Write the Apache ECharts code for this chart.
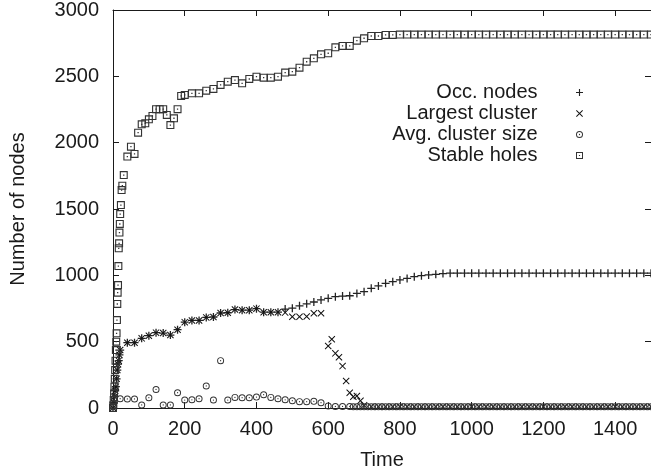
<!DOCTYPE html>
<html>
<head>
<meta charset="utf-8">
<script src="https://cdn.jsdelivr.net/npm/echarts@6/dist/echarts.min.js"></script>
<style>
  html, body { margin: 0; padding: 0; background: #fff; }
  #chart { width: 651px; height: 476px; }
</style>
</head>
<body>
<div id="chart"></div>
<script>
// values
var tHoles = [0,1,2,3,4,5,6,7,8,9,10,11,12,13,14,15,16,17,18,19,20,22,24,26,30,
  40,50,60,70,80,90,100,110,120,130,140,150,160,170,180,190,200,
  220,240,260,280,300,320,340,360,380,400,420,440,460,480,500,520,540,560,580,600,
  620,640,660,680,700,720,740,760,780,800,820,840,860,880,900,920,940,960,980,1000,
  1020,1040,1060,1080,1100,1120,1140,1160,1180,1200,1220,1240,1260,1280,1300,
  1320,1340,1360,1380,1400,1420,1440,1460,1480,1500]
var vHoles = [0,20,60,110,161,220,286,357,437,500,563,663,784,869,927,1070,1204,1241,1322,1387,1462,1530,1643,1676,1756,
  1895,1970,1915,2075,2138,2146,2176,2201,2252,2252,2252,2209,2133,2184,2252,2352,2360,
  2372,2372,2392,2405,2435,2460,2472,2447,2480,2497,2490,2490,2497,2528,2535,2565,2610,2636,2666,2674,
  2719,2729,2729,2769,2787,2804,2804,2812,2812,2815,2815,2815,2815,2815,2815,2815,2815,2815,2815,2815,
  2815,2815,2815,2815,2815,2815,2815,2815,2815,2815,2815,2815,2815,2815,2815,
  2815,2815,2815,2815,2815,2815,2815,2815,2815,2815,2815]

var tOcc = [0,2,4,6,8,10,12,14,16,18,20,
  40,60,80,100,120,140,160,180,200,220,240,260,280,300,320,340,360,380,400,420,440,460,480,500,
  520,540,560,580,600,620,640,660,680,700,720,740,760,780,800,820,840,860,880,900,920,
  940,960,980,1000,1020,1040,1060,1080,1100,1120,1140,1160,1180,1200,1220,1240,1260,1280,1300,
  1320,1340,1360,1380,1400,1420,1440,1460,1480,1500]
var vOcc = [0,40,85,130,161,220,286,330,357,400,437,
  492,492,525,545,568,565,550,590,647,660,660,683,686,716,718,742,737,737,749,722,722,722,746,752,
  770,785,799,815,827,839,844,846,864,877,902,920,940,952,965,977,990,997,1003,1008,1013,
  1016,1016,1016,1016,1016,1016,1016,1016,1016,1016,1016,1016,1016,1016,1016,1016,1016,1016,1016,
  1016,1016,1016,1016,1016,1016,1016,1016,1016,1016]

var tLargest = [0,2,4,6,8,10,12,14,16,18,20,
  40,60,80,100,120,140,160,180,200,220,240,260,280,300,320,340,360,380,400,420,440,460,480,500,
  520,540,560,580,600,610,620,630,640,650,660,670,680,690,700,
  720,740,760,780,800,820,840,860,880,900,920,940,960,980,1000,1020,1040,1060,1080,1100,
  1120,1140,1160,1180,1200,1220,1240,1260,1280,1300,1320,1340,1360,1380,1400,1420,1440,1460,1480,1500]
var vLargest = [0,40,85,130,161,220,286,330,357,400,437,
  492,492,525,545,568,565,550,590,647,660,660,683,686,716,718,742,737,737,749,722,722,722,719,688,
  688,690,714,714,467,518,412,382,316,204,115,85,90,55,20,
  10,10,10,10,10,10,10,10,10,10,10,10,10,10,10,10,10,10,10,10,
  10,10,10,10,10,10,10,10,10,10,10,10,10,10,10,10,10,10,10,10]

var tAvg = [0,4,20,40,60,80,100,120,140,160,180,200,220,240,260,280,300,320,340,360,380,400,
  420,440,460,480,500,520,540,560,580,600,620,640,660,
  670,680,690,700,710,720,730,740,750,760,770,780,790,800,810,820,830,840,850,860,870,880,890,900,
  910,920,930,940,950,960,970,980,990,1000,1010,1020,1030,1040,1050,1060,1070,1080,1090,1100,
  1110,1120,1130,1140,1150,1160,1170,1180,1190,1200,1210,1220,1230,1240,1250,1260,1270,1280,1290,1300,
  1310,1320,1330,1340,1350,1360,1370,1380,1390,1400,1410,1420,1430,1440,1450,1460,1470,1480,1490,1500]
var vAvg = [10,75,70,68,68,23,78,140,23,23,115,60,62,70,166,60,357,60,80,78,78,82,
  100,80,70,62,55,48,48,50,40,15,12,12,12,
  10,10,10,10,10,10,10,10,10,10,10,10,10,10,10,10,10,10,10,10,10,10,10,10,
  10,10,10,10,10,10,10,10,10,10,10,10,10,10,10,10,10,10,10,10,
  10,10,10,10,10,10,10,10,10,10,10,10,10,10,10,10,10,10,10,10,
  10,10,10,10,10,10,10,10,10,10,10,10,10,10,10,10,10,10,10,10]

var names = ['Occ. nodes', 'Largest cluster', 'Avg. cluster size', 'Stable holes']

var plusSym = 'path://M4.2,0H5.8V4.2H10V5.8H5.8V10H4.2V5.8H0V4.2H4.2Z'
var crossSym = 'path://M0,1L1,0L10,9L9,10Z M9,0L10,1L1,10L0,9Z'
var circSym = 'path://M5,0A5,5,0,1,1,5,10A5,5,0,1,1,5,0Z M5,1.4A3.6,3.6,0,1,0,5,8.6A3.6,3.6,0,1,0,5,1.4Z M5,4.1A0.9,0.9,0,1,1,5,5.9A0.9,0.9,0,1,1,5,4.1Z'
var sqSym = 'path://M0,0H10V10H0Z M1.4,1.4V8.6H8.6V1.4Z M4.2,4.2H5.8V5.8H4.2Z'

function pairs(ts, vs) {
  var out = []
  for (var i = 0; i < ts.length; i++) out.push([ts[i], vs[i]])
  return out
}

var font = 'Liberation Sans'
var ink = '#1a1a1a'
var plain = function (v) { return String(v) }

var chart = echarts.init(document.getElementById('chart'))

function mirrorX(pos, show) {
  return {
    type: 'value', position: pos, min: 0, max: 1500, interval: 200,
    axisLine: { show: true, onZero: false, lineStyle: { color: ink, width: 1 } },
    axisTick: { show: true, inside: true, length: 6, lineStyle: { color: ink } },
    axisLabel: { show: show, margin: 11, fontFamily: font, fontSize: 20, color: ink, showMaxLabel: false, formatter: plain },
    splitLine: { show: false }
  }
}
function mirrorY(pos, show) {
  return {
    type: 'value', position: pos, min: 0, max: 3000, interval: 500,
    axisLine: { show: true, onZero: false, lineStyle: { color: ink, width: 1 } },
    axisTick: { show: true, inside: true, length: 6, lineStyle: { color: ink } },
    axisLabel: { show: show, margin: 14, fontFamily: font, fontSize: 20, color: ink, formatter: plain },
    splitLine: { show: false }
  }
}

var xBottom = mirrorX('bottom', true)
xBottom.name = 'Time'
xBottom.nameLocation = 'middle'
xBottom.nameGap = 42
xBottom.nameTextStyle = { fontFamily: font, fontSize: 20, color: ink }
var yLeft = mirrorY('left', true)
yLeft.name = 'Number of nodes'
yLeft.nameLocation = 'middle'
yLeft.nameGap = 85
yLeft.nameTextStyle = { fontFamily: font, fontSize: 20, color: ink }

function scatter(name, data, sym, size, color) {
  return {
    name: name, type: 'scatter', data: data, symbol: sym, symbolSize: size,
    clip: false, silent: true, animation: false,
    itemStyle: { color: color, opacity: 1 }
  }
}

chart.setOption({
  animation: false,
  backgroundColor: '#fff',
  grid: { left: 113, right: -3, top: 10, bottom: 68, containLabel: false },
  legend: {
    data: names,
    orient: 'vertical',
    align: 'right',
    right: 68,
    top: 82,
    padding: 0,
    itemGap: 0,
    itemWidth: 74,
    itemHeight: 7,
    selectedMode: false,
    textStyle: { fontFamily: font, fontSize: 20, color: ink, lineHeight: 21 }
  },
  xAxis: [xBottom, mirrorX('top', false)],
  yAxis: [yLeft, mirrorY('right', false)],
  series: [
    scatter(names[0], pairs(tOcc, vOcc), plusSym, 8, '#222'),
    scatter(names[1], pairs(tLargest, vLargest), crossSym, 7, '#111'),
    scatter(names[2], pairs(tAvg, vAvg), circSym, 7, '#333'),
    scatter(names[3], pairs(tHoles, vHoles), sqSym, 8, '#333')
  ]
})
</script>
</body>
</html>
